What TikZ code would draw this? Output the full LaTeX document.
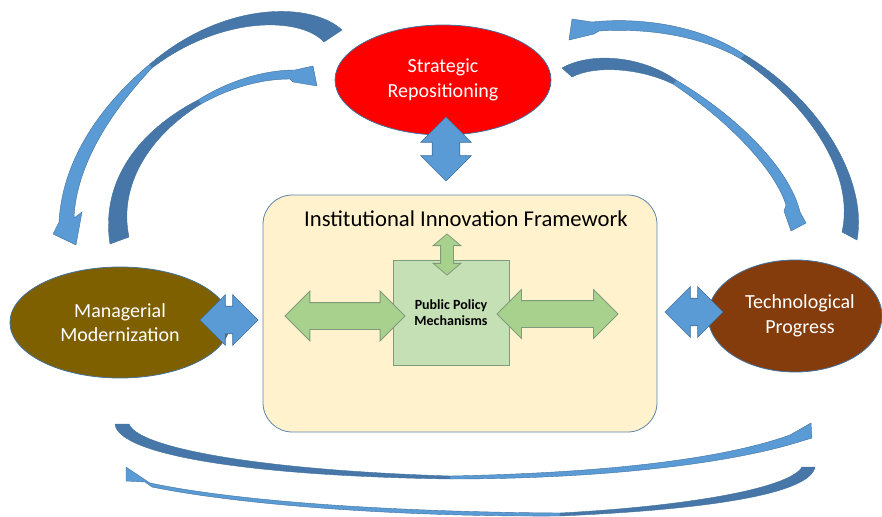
\documentclass[tikz,border=0pt]{standalone}
\usepackage{fontspec}
\setmainfont{Carlito}
\usetikzlibrary{shapes.geometric,shapes.arrows}
\definecolor{stratred}{HTML}{FF0000}
\definecolor{managebrown}{HTML}{7F6000}
\definecolor{techbrown}{HTML}{843C0C}
\definecolor{edgeblue}{HTML}{41719C}
\definecolor{arrowblue}{HTML}{5B9BD5}
\definecolor{bandblue}{HTML}{4677A8}
\definecolor{framefill}{HTML}{FFF2CC}
\definecolor{boxgreen}{HTML}{C5E0B4}
\definecolor{arrowgreen}{HTML}{A9D18E}
\definecolor{edgegreen}{HTML}{7E9C7A}
\tikzset{
  bubble/.style={ellipse,draw=edgeblue,line width=0.6pt,text=white,align=center,font=\fontsize{15}{18.5}\selectfont},
  bluearrow/.style={double arrow,draw=edgeblue,fill=arrowblue,line width=0.5pt,inner xsep=0pt,inner ysep=10.1pt,double arrow head extend=8.6pt},
  greenarrow/.style={double arrow,draw=edgegreen,fill=arrowgreen,line width=0.6pt,inner xsep=0pt},
  backband/.style={fill=bandblue,draw=edgeblue,line width=0.3pt},
  frontband/.style={fill=arrowblue,draw=edgeblue,line width=0.3pt}
}
\begin{document}
\begin{tikzpicture}[x=0.75pt,y=-0.75pt]
  \useasboundingbox (0,0) rectangle (882,517);
  %% Curved arrows, top left
  \path[backband] (324,42) -- (342,30) .. controls (312,2) and (225,0) .. (150,64)
      -- (152,68) .. controls (220,16) and (300,16) .. (324,42) -- cycle;
  \path[frontband] (150,64) .. controls (95,110) and (62,165) .. (59,222)
      -- (53,234) -- (76,245) -- (82,212) -- (74,218)
      .. controls (76,170) and (105,118) .. (152,68) -- cycle;
  \path[backband] (110,244) .. controls (100,180) and (140,130) .. (198,100)
      -- (201,104) .. controls (150,135) and (118,185) .. (129,237) -- cycle;
  \path[frontband] (198,100) .. controls (230,80) and (265,70) .. (295,70)
      -- (313,66) -- (317,86) -- (293,82) -- (290,79)
      .. controls (260,79) and (230,88) .. (201,104) -- cycle;
  %% Curved arrows, top right
  \path[backband] (842,232) -- (857,240) .. controls (868,180) and (820,100) .. (745,55)
      -- (741,59) .. controls (810,105) and (855,175) .. (842,232) -- cycle;
  \path[frontband] (745,55) .. controls (700,25) and (640,17) .. (592,22)
      -- (572,19) -- (569,40) -- (594,34) -- (599,31)
      .. controls (645,28) and (700,35) .. (741,59) -- cycle;
  \path[backband] (562,68) .. controls (590,52) and (640,55) .. (676,80)
      -- (673,84) .. controls (640,68) and (595,65) .. (572,77) -- cycle;
  \path[frontband] (676,80) .. controls (740,118) and (790,170) .. (800,212)
      -- (806,223) -- (791,231) -- (784,211) -- (786,205)
      .. controls (775,170) and (730,122) .. (673,84) -- cycle;
  %% Curved arrows, bottom
  \path[backband] (115,424) -- (129,424) .. controls (138,448) and (260,470) .. (450,476)
      -- (450,479) .. controls (250,476) and (118,455) .. (115,424) -- cycle;
  \path[frontband] (450,476) .. controls (600,473) and (720,460) .. (790,435)
      -- (811,423) -- (812,438) -- (802,441)
      .. controls (730,464) and (600,479) .. (450,479) -- cycle;
  \path[backband] (802,467) -- (815,467) .. controls (810,495) and (700,510) .. (560,516)
      -- (560,513) .. controls (690,506) and (790,488) .. (802,467) -- cycle;
  \path[frontband] (560,513) .. controls (400,512) and (240,502) .. (150,483)
      -- (126,467) -- (126,481) -- (145,482) -- (152,487)
      .. controls (240,505) and (400,517) .. (560,516) -- cycle;
  %% Framework
  \node[draw=edgeblue!85,fill=framefill,rounded corners=22pt,minimum width=295.5pt,minimum height=177.75pt,line width=0.6pt] (frame) at (460,313.5) {};
  \node[font=\fontsize{17}{20}\selectfont] (title) at (466,219) {Institutional Innovation Framework};
  \node[draw=edgegreen,fill=boxgreen,minimum width=87pt,minimum height=78.75pt,line width=0.6pt,align=center,font=\fontsize{10.5}{12.5}\selectfont\bfseries] (ppm) at (451,312.5) {Public Policy\\Mechanisms};
  \node[greenarrow,minimum height=90pt,inner ysep=9.75pt,double arrow head extend=8.6pt] (pushL) at (345,316) {};
  \node[greenarrow,minimum height=90.75pt,inner ysep=9.75pt,double arrow head extend=8.3pt] (pushR) at (557.5,314) {};
  \node[greenarrow,rotate=90,minimum height=30.75pt,inner ysep=4.5pt,double arrow head extend=5.6pt,double arrow tip angle=100] (pushT) at (447,254.5) {};
  %% Outer bubbles
  \node[bubble,fill=stratred,minimum width=162pt,minimum height=82.5pt] (strat) at (443,80) {Strategic\\Repositioning};
  \node[bubble,fill=managebrown,minimum width=165pt,minimum height=83.25pt] (manage) at (120,322.5) {Managerial\\Modernization};
  \node[bubble,fill=techbrown,minimum width=130.5pt,minimum height=84pt] (tech) at (795,316) {};
  \node[text=white,align=center,font=\fontsize{15}{18.5}\selectfont] (techtext) at (800,316) {Technological\\Progress};
  %% Links to the framework
  \node[bluearrow,rotate=90,minimum height=48pt] (linkT) at (446,149) {};
  \node[bluearrow,minimum height=43.5pt] (linkL) at (229,320) {};
  \node[bluearrow,minimum height=43.5pt] (linkR) at (694,312) {};
\end{tikzpicture}
\end{document}
